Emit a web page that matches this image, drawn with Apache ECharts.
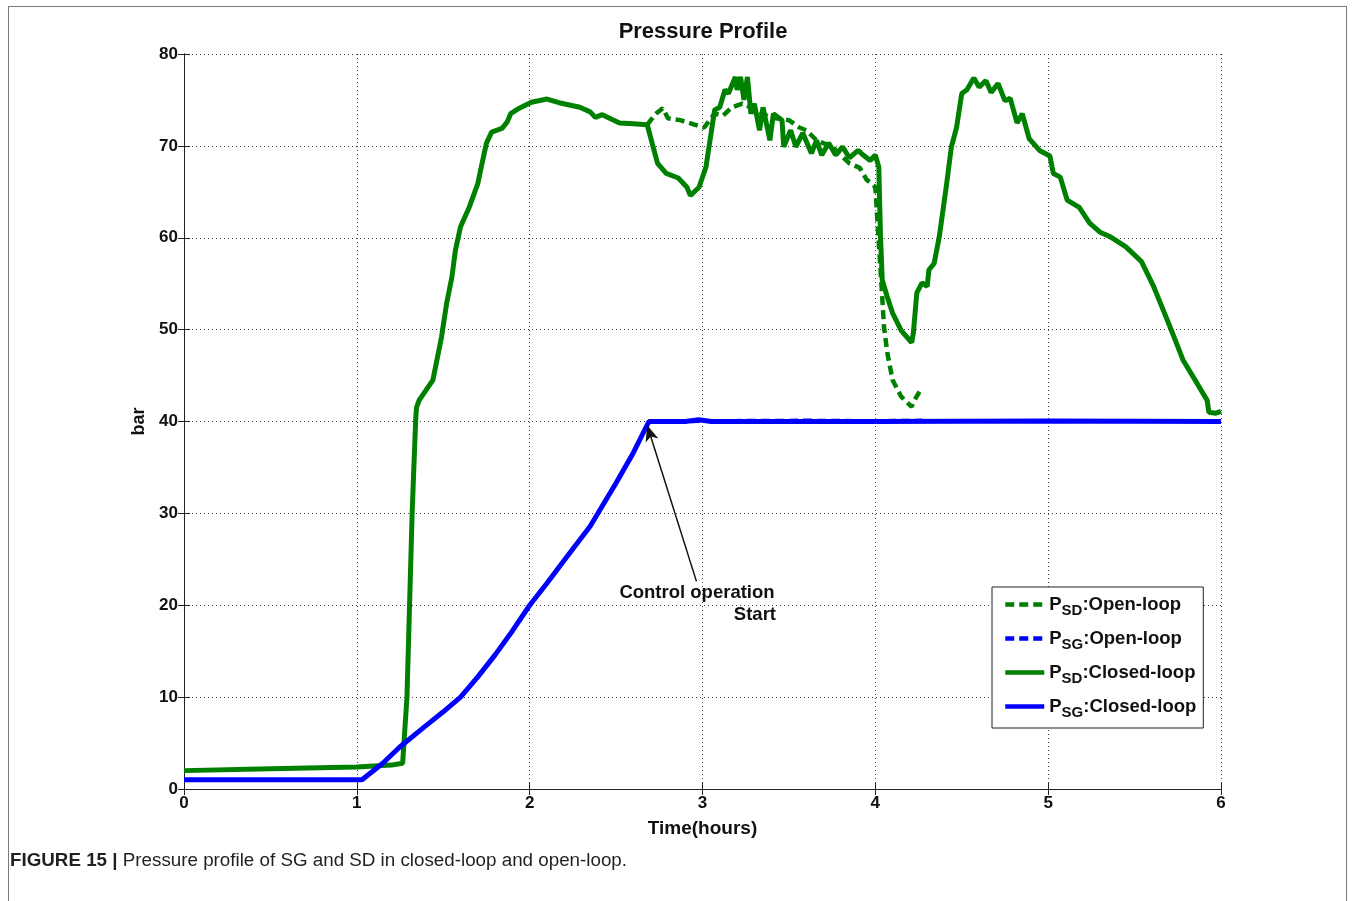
<!DOCTYPE html>
<html>
<head>
<meta charset="utf-8">
<title>Pressure Profile</title>
<script src="https://cdn.jsdelivr.net/npm/echarts@6/dist/echarts.min.js"></script>
<style>
  html, body { margin: 0; padding: 0; background: #fff; }
  #frame { position: absolute; left: 8px; top: 6px; width: 1339px; height: 900px;
           border: 1px solid #7a7a7a; border-bottom: none; box-sizing: border-box; }
  #chart { position: absolute; left: 0; top: 0; width: 1354px; height: 901px; }
  #caption { position: absolute; left: 10px; top: 849px; font-family: "Liberation Sans", Arial, sans-serif;
             font-size: 18.8px; color: #231f20; }
  #caption b { font-weight: bold; }
</style>
</head>
<body>
<div id="frame"></div>
<div id="chart"></div>
<div id="caption"><b>FIGURE 15 |</b> Pressure profile of SG and SD in closed-loop and open-loop.</div>
<script>
// Time axis (hours) and pressure (bar) samples for each trace
const xTicks = [0, 1, 2, 3, 4, 5, 6];
const yTicks = [0, 10, 20, 30, 40, 50, 60, 70, 80];

// P_SD, closed-loop
const sdClosedT = [0, 0.5, 1.0, 1.2, 1.265, 1.29, 1.305, 1.32, 1.34, 1.345, 1.36, 1.44, 1.49, 1.52, 1.55, 1.57,
  1.60, 1.65, 1.70, 1.72, 1.75, 1.78, 1.84, 1.87, 1.89, 1.94, 2.01, 2.10, 2.17, 2.29, 2.35, 2.38, 2.42,
  2.52, 2.60, 2.68, 2.74, 2.79, 2.86, 2.91, 2.93, 2.98, 3.02, 3.07, 3.10, 3.13, 3.15, 3.19, 3.20, 3.22,
  3.24, 3.26, 3.28, 3.30, 3.33, 3.35, 3.39, 3.41, 3.46, 3.47, 3.51, 3.54, 3.58, 3.63, 3.66, 3.69, 3.73,
  3.77, 3.81, 3.85, 3.90, 3.93, 3.97, 4.00, 4.02, 4.03, 4.04, 4.07, 4.10, 4.15, 4.21, 4.22, 4.24, 4.27,
  4.30, 4.31, 4.34, 4.37, 4.41, 4.44, 4.47, 4.50, 4.53, 4.57, 4.60, 4.64, 4.67, 4.71, 4.75, 4.78, 4.82,
  4.85, 4.89, 4.95, 5.01, 5.03, 5.07, 5.11, 5.18, 5.24, 5.30, 5.36, 5.45, 5.54, 5.61, 5.66, 5.72, 5.78,
  5.86, 5.92, 5.93, 5.97, 6.00];
const sdClosedV = [2.0, 2.2, 2.4, 2.6, 2.8, 10, 20, 30, 40, 41.5, 42.3, 44.5, 49.2, 52.9, 55.7, 58.6,
  61.2, 63.3, 65.9, 67.7, 70.3, 71.5, 71.9, 72.6, 73.5, 74.1, 74.75, 75.1, 74.7, 74.2, 73.7, 73.1, 73.4,
  72.5, 72.4, 72.3, 68.1, 67.0, 66.5, 65.5, 64.6, 65.5, 67.7, 73.9, 74.2, 76.1, 75.7, 77.5, 76.1, 77.5,
  75.0, 77.5, 73.5, 74.6, 71.7, 74.2, 70.6, 73.5, 72.8, 69.9, 71.7, 69.9, 71.4, 69.2, 70.6, 69.0, 70.3,
  69.0, 69.9, 68.7, 69.5, 69.0, 68.4, 69.0, 67.7, 60.1, 55.4, 53.5, 51.8, 49.9, 48.6, 49.6, 54.0, 55.1,
  54.7, 56.5, 57.2, 60.1, 65.5, 69.9, 72.0, 75.7, 76.1, 77.4, 76.4, 77.1, 75.8, 76.8, 74.9, 75.2, 72.5,
  73.5, 70.8, 69.5, 68.9, 67.0, 66.6, 64.1, 63.3, 61.6, 60.6, 60.1, 59.0, 57.4, 54.7, 52.4, 49.6, 46.7,
  44.2, 42.3, 41.0, 40.9, 41.1];

// P_SD, open-loop (identical to closed-loop before control starts)
const sdOpenT = [2.68, 2.73, 2.77, 2.80, 2.87, 2.94, 3.01, 3.07, 3.12, 3.17, 3.23, 3.31, 3.39, 3.50, 3.56,
  3.60, 3.66, 3.75, 3.85, 3.91, 3.95, 3.98, 4.00, 4.03, 4.04, 4.05, 4.07, 4.10, 4.15, 4.21, 4.22, 4.27];
const sdOpenV = [72.3, 73.5, 74.1, 73.0, 72.8, 72.4, 72.0, 73.5, 73.3, 74.2, 74.6, 73.9, 73.1, 72.8, 72.0,
  71.7, 70.6, 69.9, 68.1, 67.6, 66.3, 65.9, 65.5, 56.5, 53.5, 50.3, 47.4, 44.5, 42.7, 41.6, 42.1, 43.7];

// P_SG, closed-loop
const sgClosedT = [0, 1.03, 1.15, 1.25, 1.4, 1.5, 1.6, 1.7, 1.8, 1.9, 2.0, 2.1, 2.2, 2.35, 2.5, 2.6, 2.69,
  2.9, 2.98, 3.05, 3.5, 4.0, 5.0, 6.0];
const sgClosedV = [1.0, 1.0, 2.8, 4.6, 6.9, 8.4, 10.0, 12.2, 14.6, 17.2, 20.0, 22.4, 24.9, 28.6, 33.3, 36.6, 40.0,
  40.0, 40.2, 40.0, 40.0, 40.0, 40.05, 40.0];

// P_SG, open-loop
const sgOpenT = [2.69, 3.0, 3.6, 4.0, 4.27];
const sgOpenV = [40.0, 40.05, 40.1, 40.05, 40.1];

const pairs = (t, v) => t.map((x, i) => [x, v[i]]);

const GREEN = '#008000';
const BLUE = '#0000ff';
const FONT = '"Liberation Sans", Arial, sans-serif';

const chart = echarts.init(document.getElementById('chart'), null, { renderer: 'canvas' });

const axisCommon = {
  axisLine: { show: true, lineStyle: { color: '#222', width: 1 } },
  axisTick: { show: true, inside: true, length: 6, lineStyle: { color: '#222' } },
};

const legendName = (sub, loop) => `{p|P}{s|${sub}}{p|:${loop}}`;

chart.setOption({
  animation: false,
  backgroundColor: 'transparent',
  grid: { left: 184, right: 133, top: 54, bottom: 112, containLabel: false },
  legend: {
    orient: 'vertical',
    left: 992, top: 587,
    padding: [8, 7, 8, 11],
    itemGap: 11,
    itemWidth: 39, itemHeight: 14,
    borderColor: '#222', borderWidth: 1,
    backgroundColor: '#fff',
    itemStyle: { opacity: 0, borderWidth: 0 },
    lineStyle: { width: 4.5 },
    data: ['sdOpen', 'sgOpen', 'sdClosed', 'sgClosed'],
    formatter: (n) => ({
      sdOpen: legendName('SD', 'Open-loop'),
      sgOpen: legendName('SG', 'Open-loop'),
      sdClosed: legendName('SD', 'Closed-loop'),
      sgClosed: legendName('SG', 'Closed-loop')
    })[n],
    textStyle: {
      rich: {
        p: { fontFamily: FONT, fontWeight: 'bold', fontSize: 18.5, color: '#111' },
        s: { fontFamily: FONT, fontWeight: 'bold', fontSize: 15, color: '#111', padding: [12, 0, 0, 0] }
      }
    }
  },
  xAxis: [{
    type: 'value', min: 0, max: 6, interval: 1,
    name: 'Time(hours)', nameLocation: 'middle', nameGap: 30,
    nameTextStyle: { fontFamily: FONT, fontWeight: 'bold', fontSize: 19, color: '#111' },
    ...axisCommon,
    axisLabel: { fontFamily: FONT, fontWeight: 'bold', fontSize: 17, color: '#111', margin: 6,
                 formatter: (v) => xTicks.includes(v) ? String(v) : '' },
    splitLine: { show: true, lineStyle: { color: '#444', type: [1, 3], width: 1 } }
  }, {
    type: 'value', min: 0, max: 6, interval: 1, position: 'top',
    ...axisCommon, axisLabel: { show: false }, splitLine: { show: false }
  }],
  yAxis: [{
    type: 'value', min: 0, max: 80, interval: 10,
    name: 'bar', nameLocation: 'middle', nameGap: 32, nameRotate: 90,
    nameTextStyle: { fontFamily: FONT, fontWeight: 'bold', fontSize: 18, color: '#111' },
    ...axisCommon,
    axisLabel: { fontFamily: FONT, fontWeight: 'bold', fontSize: 17, color: '#111', margin: 6,
                 formatter: (v) => yTicks.includes(v) ? String(v) : '' },
    splitLine: { show: true, lineStyle: { color: '#444', type: [1, 3], width: 1 } }
  }, {
    type: 'value', min: 0, max: 80, interval: 10, position: 'right',
    ...axisCommon, axisLabel: { show: false }, splitLine: { show: false }
  }],
  series: [
    {
      name: 'sgOpen', type: 'line', data: pairs(sgOpenT, sgOpenV), showSymbol: false, symbol: 'none',
      lineStyle: { color: BLUE, width: 4, type: [9, 5] }, itemStyle: { color: BLUE }, z: 2
    },
    {
      name: 'sdOpen', type: 'line', data: pairs(sdOpenT, sdOpenV), showSymbol: false, symbol: 'none',
      lineStyle: { color: GREEN, width: 4.5, type: [9, 5] }, itemStyle: { color: GREEN }, z: 2
    },
    {
      name: 'sdClosed', type: 'line', data: pairs(sdClosedT, sdClosedV), showSymbol: false, symbol: 'none',
      lineStyle: { color: GREEN, width: 5 }, itemStyle: { color: GREEN }, z: 3
    },
    {
      name: 'sgClosed', type: 'line', data: pairs(sgClosedT, sgClosedV), showSymbol: false, symbol: 'none',
      lineStyle: { color: BLUE, width: 5 }, itemStyle: { color: BLUE }, z: 4,
      markLine: {
        silent: true, animation: false,
        symbol: ['none', 'arrow'], symbolSize: [10, 16],
        lineStyle: { color: '#111', width: 1.5, type: 'solid' },
        label: { show: false },
        data: [[{ coord: [2.965, 22.6] }, { coord: [2.68, 39.6] }]]
      }
    }
  ],
  graphic: [
    { type: 'text', x: 703, y: 32,
      style: { text: 'Pressure Profile', font: `bold 22px ${FONT}`, fill: '#111',
               textAlign: 'center', textVerticalAlign: 'middle', verticalAlign: 'middle' } },
    { type: 'text', x: 697, y: 593,
      style: { text: 'Control operation', font: `bold 18.5px ${FONT}`, fill: '#111',
               textAlign: 'center', textVerticalAlign: 'middle', verticalAlign: 'middle' } },
    { type: 'text', x: 776, y: 615,
      style: { text: 'Start', font: `bold 18.5px ${FONT}`, fill: '#111',
               textAlign: 'right', textVerticalAlign: 'middle', verticalAlign: 'middle' } }
  ]
});
</script>
</body>
</html>
